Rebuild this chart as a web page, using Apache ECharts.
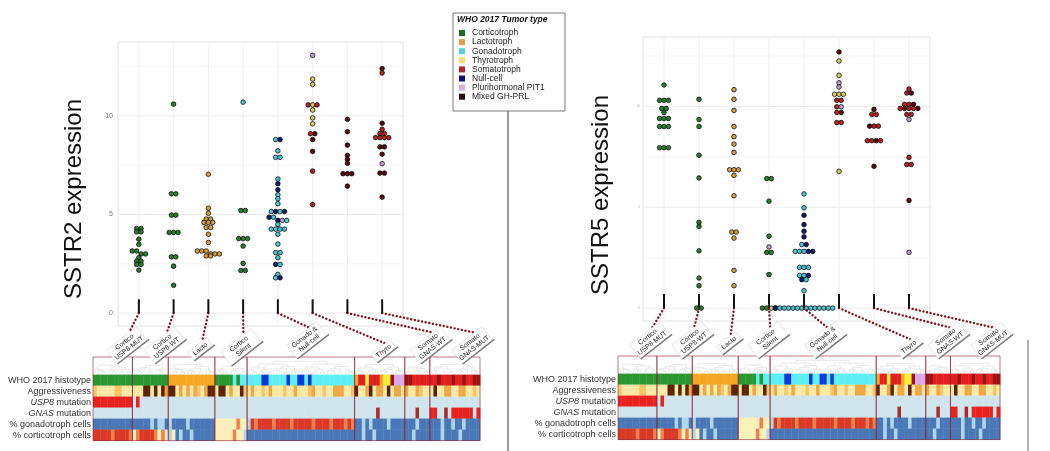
<!DOCTYPE html>
<html><head><meta charset="utf-8">
<script src="https://cdn.jsdelivr.net/npm/echarts@6/dist/echarts.min.js"></script>
<style>html,body{margin:0;padding:0;background:#fff}#c{width:1050px;height:451px}</style>
</head><body><div id="c"></div>
<script>
// ================= DATA =================
const groupLabels = ['Cortico\nUSP8-MUT','Cortico\nUSP8-WT','Lacto','Cortico\nSilent','Gonado &\nNull-cell','Thyro','Somato\nGNAS-WT','Somato\nGNAS-MUT'];
const groupDefaultType = ['G','G','L','G','C','T','M','S'];
const tumorTypes = ['Corticotroph','Lactotroph','Gonadotroph','Thyrotroph','Somatotroph','Null-cell','Plurihormonal PIT1','Mixed GH-PRL'];
const tumorCodes = ['G','L','C','T','S','N','P','M'];
const legendTitle = 'WHO 2017 Tumor type';
const yTicks = [0, 5, 10];

// SSTR2 expression per group
const sstr2Values = [
  [4.29,4.29,4.12,4.12,3.75,3.49,3.15,3.15,3.0,3.0,2.81,2.64,2.64,2.47,2.47,2.18],
  [10.6,6.05,6.05,4.97,4.97,4.09,4.09,4.09,2.85,2.85,2.38,1.41],
  [7.04,5.32,5.06,4.77,4.77,4.6,4.6,4.6,4.34,4.34,4.0,3.58,3.15,3.15,3.15,3.0,3.0,3.0,2.9,2.9],
  [10.7,5.2,5.2,3.78,3.78,3.78,3.4,2.52,2.16,2.16],
  [8.8,8.8,8.23,7.9,7.9,6.8,6.56,6.25,6.0,5.8,5.55,5.15,5.15,5.15,5.15,4.86,4.86,4.7,4.7,4.7,4.5,4.26,4.26,4.26,4.26,4.0,3.5,3.07,3.07,2.81,2.47,2.47,1.96,1.79,1.79],
  [13.07,11.87,11.6,10.56,10.56,10.56,10.3,9.9,9.6,9.1,9.1,8.8,8.2,7.2,5.5],
  [9.83,9.2,8.52,8.0,7.8,7.6,7.07,7.07,7.07,6.44],
  [12.4,12.18,9.63,9.32,9.1,9.1,8.9,8.9,8.9,8.9,8.43,8.43,8.06,7.58,7.1,7.1,5.88]
];
const sstr2Types = ['', '', '', 'CGGGGGGGGG', 'CNCCCCNNCCCCNCNNCNPCCCCCCCCCCCNCCCN', 'PTTSTSTTTSMMMSS', '', 'MSMSSSSSSSMMMPMMM'];

// SSTR5 expression per group
const sstr5Values = [
  [11.06,10.3,10.3,10.3,9.9,9.9,9.7,9.4,9.4,9.4,9.0,9.0,9.0,7.95,7.95,7.95],
  [10.35,9.35,9.0,7.58,6.45,4.25,4.05,2.84,1.49,1.11,0,0],
  [10.83,10.35,9.8,9.0,8.5,8.13,7.72,6.86,6.86,6.86,6.58,5.57,3.77,3.77,3.47,1.87,1.11],
  [6.42,6.42,5.3,3.56,3.03,2.76,2.76,1.66,0,0,0,0],
  [5.66,4.97,4.6,4.14,3.81,3.53,3.15,3.15,2.81,2.81,2.81,2.81,2.81,2.02,2.02,2.02,1.62,1.62,1.62,1.41,1.41,0.86,0,0,0,0,0,0,0,0,0,0,0,0,0,0],
  [12.7,12.25,11.54,11.17,10.96,10.6,10.6,10.6,10.3,10.3,9.98,9.98,9.7,9.7,9.2,9.2,6.78],
  [9.85,9.6,9.6,9.02,9.02,9.02,8.3,8.3,8.3,8.3,7.03],
  [10.86,10.66,10.66,10.1,10.1,10.1,9.9,9.9,9.9,9.9,9.9,9.6,9.6,9.35,7.47,7.12,7.12,5.34,2.76]
];
const sstr5Types = ['', '', '', 'GGGGPGGGGGTT', 'CCNNNNCNCCCNNCCCCCNNCCNCCCCCCCCCCCCC', 'MTTPPTTTSSSPSMSST', 'MSSMSSSSMSM', 'SSMSSMSMSSMSSPSSSMP'];

// Annotation heatmap (one character per sample, '|' separates the groups)
const heatRowLabels = ['WHO 2017 histotype','Aggressiveness','{i|USP8} mutation','{i|GNAS} mutation','% gonadotroph cells','% corticotroph cells'];
const hmHistotype  = 'GGGGGGGGGGG|GGGGGGGGGG|LLLLLLLLLLLLL|GGGGGCGCC|CCCCNNCCCCCNCCNNCNCCCCCCCCCCCC|LSSTSSSLTTMPPP|MMSSSSS|SSMSSSMSSMSSMM';
const hmAggressive = '10000011000|0003303032|3302020210233|033020031|020010200010020001200100222001|30023022030220|2002100|03002200220010';
const hmUSP8       = '11111111111|0100000000|0000000000000|000000000|000000000000000000000000000000|00000000000000|0000000|00000000000000';
const hmGNAS       = '00000000000|0000000000|0000000000000|000000000|000000000000000000000000000000|00000020000000|0002000|11002011111101';
const hmGonado     = '00000000000|0000010110|1000010000000|222222322|143444434444344444344443444343|00101000010000|0001000|00010010010000';
const hmCortico    = '44444344443|2344443232|1201001000000|222223221|000000000000000000000000000000|00100100000000|0010000|00010000100000';

// ================= STYLE =================
const FONT = '"Liberation Sans", Arial, sans-serif';
const pointColor = {G:'#2a7d30', L:'#d39f3e', C:'#4cc6d2', T:'#d8cc62', S:'#b82025', N:'#141c70', P:'#b8a2c6', M:'#560a0e'};
const legendColor = {G:'#1f6b2a', L:'#e2a04a', C:'#58d0dc', T:'#efe070', S:'#b3202a', N:'#10107a', P:'#d6aee0', M:'#2a0505'};
const histColor = {G:'#2a9630', L:'#f5a623', C:'#5eeff5', T:'#f5ee3a', S:'#e21f1f', N:'#0c39d6', P:'#d8a9e6', M:'#9e1010'};
const aggrColor = ['#fde9a4','#f6c46a','#eda848','#5a2406'];
const mutColor = ['#cfe4ec','#e8231f','#a82a2a'];
const pctColor = ['#4a77b5','#aed6ee','#fbf0b8','#f08050','#d93a26'];
const LABEL_ANGLE = 38 * Math.PI / 180;
const labelPosL = [[-12,32],[-9,32],[-8,36],[-2,34],[29,27],[71,38],[83,32],[90,32]];
const labelPosR = [[-14,32],[-7,32],[-5,35],[-1,32],[21,32],[70,39],[74,32],[82,32]];

const L = {grid:{left:118, top:42, width:285, height:284}, ymin:-0.655, ymax:13.75};
const R = {grid:{left:643, top:37, width:287, height:284}, ymin:-0.64, ymax:13.44};
const XMIN = -0.6, XMAX = 7.6;
const DIAM = 4.6;

// ================= BUILD =================
// row-wise beeswarm: points whose values fall within one row band are centred side by side
function swarm(values, xs, ys){
  const order = values.map((v,i)=>i).sort((a,b)=>values[b]-values[a]);
  const off = new Array(values.length).fill(0);
  const rowH = 3.2, sp = 4.4;
  let bin = [], top = null;
  const flush = ()=>{ bin.forEach((i,k)=>{ off[i] = (k-(bin.length-1)/2)*sp/xs; }); bin = []; };
  order.forEach(i=>{
    const yp = values[i]*ys;
    if (top===null || top-yp > rowH){ flush(); top = yp; }
    bin.push(i);
  });
  flush();
  return off;
}
function scatterData(valuesArr, typesArr, cfg){
  const xs = cfg.grid.width/(XMAX-XMIN), ys = cfg.grid.height/(cfg.ymax-cfg.ymin);
  const out = [];
  valuesArr.forEach((vals, g)=>{
    const off = swarm(vals, xs, ys);
    vals.forEach((v,i)=>{
      const t = (typesArr[g] && typesArr[g][i]) || groupDefaultType[g];
      out.push({value:[g+off[i], v], itemStyle:{color:pointColor[t]}});
    });
  });
  return out;
}
function gridLineSeries(xi, yi){
  const data = [[0,0],[0,5],[0,10],[1,2.5],[1,7.5],[1,12.5]];
  for (let i=0;i<8;i++) data.push([2,i]);
  return {type:'custom', xAxisIndex:xi, yAxisIndex:yi, silent:true, z:1, data,
    renderItem(params, api){
      const cs = params.coordSys; const k = api.value(0), v = api.value(1);
      if (k===2){ const x = api.coord([v,0])[0];
        return {type:'line', shape:{x1:x,y1:cs.y,x2:x,y2:cs.y+cs.height}, style:{stroke:'#f0f0f0', lineWidth:1}}; }
      const y = api.coord([0,v])[1];
      return {type:'line', shape:{x1:cs.x,y1:y,x2:cs.x+cs.width,y2:y}, style:{stroke:k===0?'#ebebeb':'#f5f5f5', lineWidth:1}};
    }};
}
function connectorSeries(xi, yi, pos){
  return {type:'custom', xAxisIndex:xi, yAxisIndex:yi, clip:false, silent:true, z:6,
    data: groupLabels.map((_,i)=>[i,0]),
    renderItem(params, api){
      const i = api.value(0);
      const p0 = api.coord([i,0]), p1 = api.coord([i,0.7]);
      const lab = groupLabels[i]; const two = lab.indexOf('\n')>=0;
      const w = two ? 38 : 24, h = two ? 17 : 10, th = LABEL_ANGLE;
      const cx = p0[0]+pos[i][0], cy = p0[1]+pos[i][1];
      const ux=Math.cos(th), uy=-Math.sin(th), vx=-Math.sin(th), vy=-Math.cos(th);
      const ex = cx + ux*w*0.25 + vx*h/2, ey = cy + uy*w*0.25 + vy*h/2;
      return {type:'group', children:[
        {type:'polyline', shape:{points:[[p0[0],p0[1]],[ex,ey]]}, style:{stroke:'#7e1520', fill:null, lineWidth:2.4, lineDash:[0.1,3.6], lineCap:'round'}},
        {type:'line', shape:{x1:p1[0],y1:p1[1],x2:p0[0],y2:p0[1]}, style:{stroke:'#111', lineWidth:2}},
        {type:'rect', x:cx, y:cy, rotation:th, shape:{x:-w/2,y:-h/2,width:w,height:h}, style:{fill:'rgba(255,255,255,0.9)', stroke:'#d6d6d6', lineWidth:0.6}},
        {type:'line', x:cx, y:cy, rotation:th, shape:{x1:-w/2,y1:h/2+0.6,x2:w/2+2,y2:h/2+0.6}, style:{stroke:'#7a7a7a', lineWidth:1.4}},
        {type:'text', x:cx, y:cy, rotation:th, style:{text:lab, fontSize:6.8, fontFamily:FONT, fill:'#2a2a2a', align:'center', verticalAlign:'middle', lineHeight:7.5}}
      ]};
    }};
}
// heatmap
const groupsHist = hmHistotype.split('|');
const groupLens = groupsHist.map(s=>s.length);
const groupStarts = []; groupLens.reduce((a,n)=>{groupStarts.push(a); return a+n;},0);
const NCOL = groupLens.reduce((a,b)=>a+b,0);
function normRow(str){
  return str.split('|').map((s,g)=>{ const n=groupLens[g]; let t=s.slice(0,n); while(t.length<n) t+=t.slice(-1)||'0'; return t; }).join('');
}
const heatRows = [
  {str:normRow(hmHistotype), col:c=>histColor[c]},
  {str:normRow(hmAggressive), col:c=>aggrColor[+c]},
  {str:normRow(hmUSP8), col:c=>mutColor[+c]},
  {str:normRow(hmGNAS), col:c=>mutColor[+c]},
  {str:normRow(hmGonado), col:c=>pctColor[+c]},
  {str:normRow(hmCortico), col:c=>pctColor[+c]}
];
const DTOP = 1.6, YMAXH = 7.6;
const flatColors = []; const heatData = [];
heatRows.forEach((row,r)=>{ row.str.split('').forEach((ch,c)=>{ flatColors.push(row.col(ch)); heatData.push([c, r, flatColors.length-1]); }); });
const dendroSegs = [];
function build(lo, hi){
  const n = hi-lo;
  if (n===1) return {x:lo+0.5, y:DTOP};
  let m = lo + Math.floor(n/2);
  if (n>3) m += ((lo*7+hi*3)%3)-1;
  m = Math.max(lo+1, Math.min(hi-1, m));
  const a = build(lo,m), b = build(m,hi);
  const y = DTOP - 1.2*Math.log2(n)/Math.log2(30);
  dendroSegs.push([a.x,a.y,a.x,y],[b.x,b.y,b.x,y],[a.x,y,b.x,y]);
  return {x:(a.x+b.x)/2, y};
}
groupLens.forEach((n,g)=>build(groupStarts[g], groupStarts[g]+n));
const boxData = groupLens.map((n,g)=>[groupStarts[g], groupStarts[g]+n]);

function heatSeries(xi, yi){
  return [
    {type:'custom', xAxisIndex:xi, yAxisIndex:yi, silent:true, z:2, data:heatData,
      renderItem(params, api){
        const c=api.value(0), r=api.value(1);
        const a=api.coord([c, DTOP+r]), b=api.coord([c+1, DTOP+r+1]);
        return {type:'rect', shape:{x:a[0], y:a[1], width:b[0]-a[0]+0.4, height:b[1]-a[1]+0.3}, style:{fill:flatColors[api.value(2)]}};
      }},
    {type:'custom', xAxisIndex:xi, yAxisIndex:yi, silent:true, z:3, data:dendroSegs,
      renderItem(params, api){
        const a=api.coord([api.value(0),api.value(1)]), b=api.coord([api.value(2),api.value(3)]);
        return {type:'line', shape:{x1:a[0],y1:a[1],x2:b[0],y2:b[1]}, style:{stroke:'#dadada', lineWidth:0.6}};
      }},
    {type:'custom', xAxisIndex:xi, yAxisIndex:yi, silent:true, z:4, data:boxData,
      renderItem(params, api){
        const a=api.coord([api.value(0),0]), b=api.coord([api.value(1),YMAXH]);
        return {type:'rect', shape:{x:a[0], y:a[1], width:b[0]-a[0], height:b[1]-a[1]}, style:{fill:null, stroke:'rgba(140,30,50,0.6)', lineWidth:1}};
      }},
    {type:'custom', xAxisIndex:xi, yAxisIndex:yi, silent:true, clip:false, z:4, data:heatRowLabels.map((_,r)=>[0,r]),
      renderItem(params, api){
        const r=api.value(1); const p=api.coord([0, DTOP+r+0.5]);
        return {type:'text', x:p[0]-2, y:p[1], style:{text:heatRowLabels[r], fontSize:9, fontFamily:FONT, fill:'#333', align:'right', verticalAlign:'middle', rich:{i:{fontStyle:'italic', fontSize:9, fontFamily:FONT, fill:'#333'}}}};
      }}
  ];
}

const legendItems = [];
tumorTypes.forEach((t,i)=>{
  const y = 33 + i*9.1;
  legendItems.push({type:'rect', shape:{x:459, y:y-3, width:6, height:6}, style:{fill:legendColor[tumorCodes[i]]}});
  legendItems.push({type:'text', x:472, y:y, style:{text:t, font:'8.5px '+FONT, fill:'#222', verticalAlign:'middle'}});
});

const chart = echarts.init(document.getElementById('c'), null, {renderer:'canvas'});
chart.setOption({
  animation:false,
  backgroundColor:'#fff',
  grid:[
    Object.assign({show:true, borderColor:'#e2e2e2', borderWidth:1, backgroundColor:'#fff'}, L.grid),
    Object.assign({show:true, borderColor:'#e2e2e2', borderWidth:1, backgroundColor:'#fff'}, R.grid),
    {left:93, top:357, width:387, height:83.6},
    {left:618, top:356, width:382, height:83.6}
  ],
  xAxis:[
    {gridIndex:0, type:'value', min:XMIN, max:XMAX, show:false},
    {gridIndex:1, type:'value', min:XMIN, max:XMAX, show:false},
    {gridIndex:2, type:'value', min:0, max:NCOL, show:false},
    {gridIndex:3, type:'value', min:0, max:NCOL, show:false}
  ],
  yAxis:[
    {gridIndex:0, type:'value', min:L.ymin, max:L.ymax, axisLine:{show:false}, axisTick:{show:false}, splitLine:{show:false},
      axisLabel:{customValues:yTicks, fontSize:7, color:'#777', margin:5, fontFamily:FONT}},
    {gridIndex:1, type:'value', min:R.ymin, max:R.ymax, axisLine:{show:false}, axisTick:{show:false}, splitLine:{show:false},
      axisLabel:{customValues:yTicks, fontSize:3, color:'#aaa', margin:3, fontFamily:FONT}},
    {gridIndex:2, type:'value', min:0, max:YMAXH, inverse:true, show:false},
    {gridIndex:3, type:'value', min:0, max:YMAXH, inverse:true, show:false}
  ],
  series:[
    gridLineSeries(0,0),
    {type:'scatter', xAxisIndex:0, yAxisIndex:0, symbolSize:DIAM, z:3, silent:true,
      itemStyle:{borderColor:'rgba(0,0,0,0.8)', borderWidth:0.9, opacity:1}, data:scatterData(sstr2Values, sstr2Types, L)},
    connectorSeries(0,0,labelPosL),
    gridLineSeries(1,1),
    {type:'scatter', xAxisIndex:1, yAxisIndex:1, symbolSize:DIAM, z:3, silent:true,
      itemStyle:{borderColor:'rgba(0,0,0,0.8)', borderWidth:0.9, opacity:1}, data:scatterData(sstr5Values, sstr5Types, R)},
    connectorSeries(1,1,labelPosR),
    ...heatSeries(2,2),
    ...heatSeries(3,3)
  ],
  graphic:[
    {type:'text', x:74, y:199, rotation:Math.PI/2, style:{text:'SSTR2 expression', font:'24px '+FONT, fill:'#111', align:'center', verticalAlign:'middle'}},
    {type:'text', x:601, y:195, rotation:Math.PI/2, style:{text:'SSTR5 expression', font:'24px '+FONT, fill:'#111', align:'center', verticalAlign:'middle'}},
    {type:'line', shape:{x1:508, y1:111, x2:508, y2:451}, style:{stroke:'#9a9a9a', lineWidth:2}},
    {type:'line', shape:{x1:1028, y1:340, x2:1028, y2:451}, style:{stroke:'#b0b0b0', lineWidth:2}},
    {type:'rect', shape:{x:453, y:13, width:112, height:98}, style:{fill:'#fff', stroke:'#7a7a7a', lineWidth:1}},
    {type:'text', x:457, y:20, style:{text:legendTitle, font:'italic bold 8.5px '+FONT, fill:'#111', verticalAlign:'middle'}},
    ...legendItems
  ]
});
</script></body></html>
